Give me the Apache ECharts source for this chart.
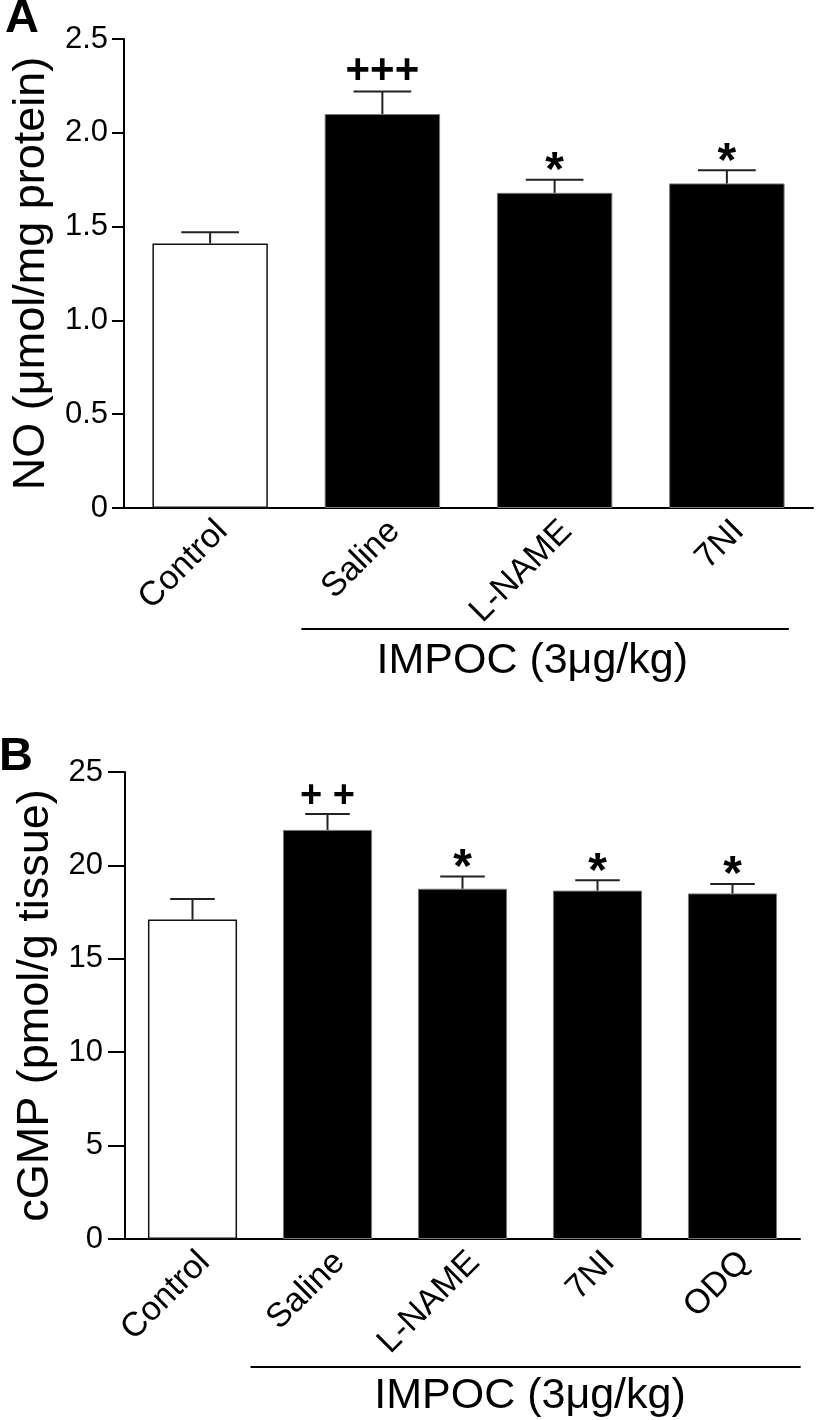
<!DOCTYPE html>
<html><head><meta charset="utf-8">
<script src="https://cdn.jsdelivr.net/npm/echarts@6/dist/echarts.min.js"></script>
<style>html,body{margin:0;padding:0;background:#fff}#c{width:816px;height:1420px}</style>
</head><body><div id="c"></div>
<script>
// ---------- data ----------
const categoriesA = ['Control', 'Saline', 'L-NAME', '7NI'];
const meansA = [1.41, 2.10, 1.68, 1.73];
const semA = [0.06, 0.12, 0.07, 0.07];
const sigA = ['', '+++', '*', '*'];
const yMinA = 0, yMaxA = 2.5, yStepA = 0.5;
const yTitleA = 'NO (μmol/mg protein)';

const categoriesB = ['Control', 'Saline', 'L-NAME', '7NI', 'ODQ'];
const meansB = [17.1, 21.9, 18.75, 18.65, 18.5];
const semB = [1.1, 0.85, 0.65, 0.55, 0.5];
const sigB = ['', '+ +', '*', '*', '*'];
const yMinB = 0, yMaxB = 25, yStepB = 5;
const yTitleB = 'cGMP (pmol/g tissue)';

const groupLabel = 'IMPOC (3μg/kg)';
const panelLetters = ['A', 'B'];

// ---------- style ----------
const FONT = "'Liberation Sans', Arial, Helvetica, sans-serif";
const chart = echarts.init(document.getElementById('c'), null, {renderer: 'canvas'});

function barData(means) {
  return means.map((v, i) => ({
    value: v,
    itemStyle: i === 0
      ? {color: '#ffffff', borderColor: '#111', borderWidth: 1.5}
      : {color: '#000000', borderColor: '#777', borderWidth: 1}
  }));
}
function errData(means, sems) {
  return means.map((v, i) => [i, v, sems[i]]);
}
function errRender(sig, plusSize, starSize, barFrac) {
  return function (params, api) {
    const i = api.value(0), m = api.value(1), e = api.value(2);
    const base = api.coord([i, m]);
    const top = api.coord([i, m + e]);
    const band = api.size([1, 0])[0];
    const half = band * barFrac * 0.25;
    const label = sig[params.dataIndex];
    const isStar = label.indexOf('*') >= 0;
    const children = [
      {type: 'line', shape: {x1: base[0], y1: base[1], x2: top[0], y2: top[1]},
       style: {stroke: '#222', lineWidth: 2}},
      {type: 'line', shape: {x1: top[0] - half, y1: top[1], x2: top[0] + half, y2: top[1]},
       style: {stroke: '#222', lineWidth: 2}}
    ];
    if (label) {
      children.push({type: 'text', x: top[0], y: top[1] + (isStar ? 16 : 1),
        style: {text: label, fill: '#000',
                font: 'bold ' + (isStar ? starSize : plusSize) + 'px ' + FONT,
                align: 'center', verticalAlign: 'bottom'}});
    }
    return {type: 'group', children: children};
  };
}

const gridA = {left: 124, top: 39, width: 689, height: 469};
const gridB = {left: 125, top: 772, width: 675, height: 467};

function xAxis(cats, gridIndex) {
  return {
    type: 'category', data: cats, gridIndex: gridIndex,
    axisLine: {lineStyle: {color: '#000', width: 2}},
    axisTick: {alignWithLabel: true, length: 8, lineStyle: {color: '#000', width: 2}},
    axisLabel: {rotate: 45, margin: 6, color: '#000', fontSize: 34, fontFamily: FONT,
                verticalAlign: 'top', interval: 0}
  };
}
function yAxis(min, max, step, title, gridIndex, fmt, tickLen, margin) {
  return {
    type: 'value', gridIndex: gridIndex, min: min, max: max, interval: step,
    name: title, nameLocation: 'middle', nameGap: 66, nameRotate: 90,
    nameTextStyle: {color: '#000', fontSize: 45, fontFamily: FONT},
    axisLine: {show: true, lineStyle: {color: '#000', width: 2}},
    axisTick: {show: true, length: tickLen, lineStyle: {color: '#000', width: 2}},
    splitLine: {show: false},
    axisLabel: {margin: margin, color: '#000', fontSize: 31, fontFamily: FONT, formatter: fmt}
  };
}

chart.setOption({
  animation: false,
  backgroundColor: '#fff',
  grid: [gridA, gridB],
  xAxis: [xAxis(categoriesA, 0), xAxis(categoriesB, 1)],
  yAxis: [
    yAxis(yMinA, yMaxA, yStepA, yTitleA, 0, v => (v === 0 ? '0' : v.toFixed(1)), 12, 16),
    yAxis(yMinB, yMaxB, yStepB, yTitleB, 1, v => String(v), 17, 22)
  ],
  series: [
    {type: 'bar', xAxisIndex: 0, yAxisIndex: 0, data: barData(meansA), barWidth: '67%'},
    {type: 'custom', xAxisIndex: 0, yAxisIndex: 0, data: errData(meansA, semA),
     renderItem: errRender(sigA, 42, 48, 0.67), z: 5},
    {type: 'bar', xAxisIndex: 1, yAxisIndex: 1, data: barData(meansB), barWidth: '66%'},
    {type: 'custom', xAxisIndex: 1, yAxisIndex: 1, data: errData(meansB, semB),
     renderItem: errRender(sigB, 38, 48, 0.66), z: 5}
  ]
});

// group bracket + label, positioned from axis scale
function bracket(xi, yi, cats, startFrac, endFrac, textFrac, lineDy, textDy) {
  const p0 = chart.convertToPixel({xAxisIndex: xi, yAxisIndex: yi}, [cats[0], 0]);
  const p1 = chart.convertToPixel({xAxisIndex: xi, yAxisIndex: yi}, [cats[1], 0]);
  const pn = chart.convertToPixel({xAxisIndex: xi, yAxisIndex: yi}, [cats[cats.length - 1], 0]);
  const band = p1[0] - p0[0];
  const x1 = p1[0] + startFrac * band, x2 = pn[0] + endFrac * band;
  const y = p1[1] + lineDy;
  return [
    {type: 'line', shape: {x1: x1, y1: y, x2: x2, y2: y}, style: {stroke: '#000', lineWidth: 2}},
    {type: 'text', x: (p1[0] + pn[0]) / 2 + textFrac * band, y: y + textDy,
     style: {text: groupLabel, fill: '#000', font: '43px ' + FONT, align: 'center', verticalAlign: 'middle'}}
  ];
}
const gA = bracket(0, 0, categoriesA, -0.47, 0.36, -0.13, 121, 32);
const gB = bracket(1, 1, categoriesB, -0.57, 0.505, 0, 128, 29);
chart.setOption({
  graphic: gA.concat(gB).concat([
    {type: 'text', x: 5, y: -4, style: {text: panelLetters[0], fill: '#000', font: 'bold 47px ' + FONT, verticalAlign: 'top'}},
    {type: 'text', x: -1, y: 734, style: {text: panelLetters[1], fill: '#000', font: 'bold 47px ' + FONT, verticalAlign: 'top'}}
  ])
});
</script>
</body></html>
